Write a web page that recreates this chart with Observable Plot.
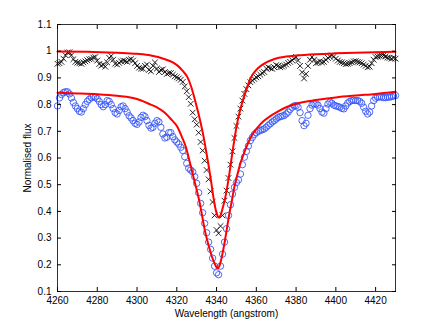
<!DOCTYPE html>
<html>
<head>
<meta charset="utf-8">
<script src="https://cdn.jsdelivr.net/npm/d3@7"></script>
<script src="https://cdn.jsdelivr.net/npm/@observablehq/plot@0.6"></script>
<style>
  html, body { margin: 0; padding: 0; background: #fff; }
  #chart { width: 436px; height: 328px; }
</style>
</head>
<body>
<div id="chart"></div>
<script>
// Wavelength grid of the observed spectra (angstrom), 1 Å steps
const wavelengths = d3.range(4260, 4431, 1);

// Observed spectrum 1 (black crosses)
const fluxBlack = [
  0.953,0.955,0.960,0.972,0.985,0.995,0.996,0.985,0.970,0.960,
  0.957,0.955,0.953,0.958,0.962,0.966,0.970,0.971,0.976,0.978,
  0.965,0.952,0.946,0.950,0.942,0.958,0.975,0.982,0.968,0.953,
  0.950,0.956,0.962,0.965,0.963,0.960,0.968,0.970,0.965,0.955,
  0.945,0.938,0.935,0.934,0.945,0.950,0.930,0.925,0.945,0.958,
  0.935,0.922,0.930,0.932,0.922,0.915,0.918,0.918,0.912,0.906,
  0.902,0.898,0.893,0.885,0.868,0.850,0.828,0.803,0.770,0.745,
  0.725,0.695,0.660,0.628,0.590,0.555,0.520,0.475,0.435,0.385,
  0.330,0.318,0.345,0.385,0.440,0.478,0.525,0.575,0.625,0.675,
  0.720,0.755,0.785,0.815,0.840,0.858,0.872,0.884,0.890,0.896,
  0.902,0.906,0.912,0.918,0.922,0.935,0.940,0.936,0.934,0.940,
  0.948,0.945,0.940,0.942,0.946,0.950,0.956,0.960,0.966,0.972,
  0.978,0.965,0.945,0.921,0.898,0.915,0.945,0.968,0.978,0.968,
  0.955,0.958,0.962,0.958,0.960,0.968,0.975,0.980,0.984,0.980,
  0.972,0.965,0.960,0.958,0.955,0.952,0.953,0.955,0.958,0.962,
  0.963,0.960,0.958,0.955,0.950,0.945,0.940,0.942,0.955,0.968,
  0.978,0.980,0.982,0.984,0.984,0.980,0.976,0.975,0.972,0.975,
  0.972
];

// Observed spectrum 2 (blue circles)
const fluxBlue = [
  0.795,0.825,0.838,0.845,0.848,0.848,0.840,0.825,0.808,0.795,
  0.785,0.775,0.772,0.785,0.800,0.812,0.820,0.826,0.830,0.828,
  0.822,0.812,0.800,0.792,0.800,0.815,0.812,0.800,0.785,0.770,
  0.765,0.778,0.792,0.795,0.785,0.772,0.758,0.750,0.740,0.730,
  0.726,0.735,0.752,0.760,0.755,0.740,0.722,0.712,0.715,0.730,
  0.740,0.735,0.715,0.690,0.675,0.678,0.695,0.695,0.680,0.668,
  0.660,0.652,0.640,0.628,0.605,0.580,0.562,0.555,0.548,0.530,
  0.505,0.470,0.430,0.395,0.355,0.320,0.285,0.258,0.225,0.195,
  0.170,0.163,0.195,0.240,0.285,0.335,0.385,0.425,0.465,0.490,
  0.508,0.518,0.540,0.575,0.603,0.625,0.645,0.665,0.677,0.688,
  0.695,0.700,0.703,0.706,0.709,0.715,0.722,0.728,0.735,0.740,
  0.746,0.752,0.755,0.757,0.759,0.765,0.772,0.782,0.790,0.795,
  0.796,0.790,0.770,0.740,0.721,0.730,0.760,0.785,0.798,0.803,
  0.803,0.798,0.785,0.772,0.768,0.785,0.802,0.809,0.805,0.798,
  0.795,0.793,0.790,0.786,0.784,0.795,0.806,0.812,0.815,0.816,
  0.815,0.815,0.812,0.805,0.790,0.775,0.765,0.772,0.795,0.815,
  0.824,0.828,0.829,0.828,0.826,0.826,0.828,0.828,0.830,0.832,
  0.834
];

// Fitted profile 1 (upper red line)
const fitUpperWave = [4260,4275,4290,4300,4307,4313.7,4318,4320.4,4323,4325.4,4327.2,4328.8,4330.5,4332.1,4333.5,4334.7,4336,4337.2,4338.5,4339.6,4340.5,4341.2,4342,4343,4344.2,4345.9,4347,4348.1,4349.2,4350.3,4352,4353.7,4355.5,4357.3,4360,4362.4,4365.5,4369.1,4375,4380,4390,4400,4415,4430];
const fitUpperFlux = [0.999,0.998,0.994,0.990,0.984,0.971,0.958,0.946,0.926,0.902,0.868,0.827,0.778,0.728,0.678,0.628,0.572,0.515,0.450,0.405,0.383,0.377,0.385,0.410,0.445,0.515,0.570,0.628,0.680,0.728,0.783,0.827,0.868,0.902,0.930,0.946,0.960,0.971,0.980,0.984,0.989,0.992,0.995,0.998];

// Fitted profile 2 (lower red line)
const fitLowerWave = [4260,4270,4280,4290,4300,4306.9,4310,4313.7,4317,4320.4,4322.5,4324.6,4326.3,4328,4329.7,4331.3,4332.6,4333.8,4335,4336.3,4337.6,4338.8,4339.8,4340.6,4341.4,4342.2,4343.2,4344.2,4345.3,4346.4,4347.7,4348.9,4350.4,4351.9,4353.8,4355.7,4358,4360.7,4364,4367.4,4371,4375,4380,4390,4400,4410,4420,4430];
const fitLowerFlux = [0.844,0.842,0.839,0.833,0.821,0.800,0.790,0.771,0.746,0.715,0.680,0.640,0.592,0.540,0.490,0.440,0.390,0.340,0.300,0.265,0.232,0.209,0.193,0.187,0.195,0.215,0.250,0.290,0.340,0.390,0.440,0.490,0.535,0.578,0.618,0.653,0.688,0.715,0.740,0.759,0.775,0.790,0.803,0.817,0.827,0.834,0.840,0.848];

// Tick values
const xTicks = [4260,4280,4300,4320,4340,4360,4380,4400,4420];
const yTicks = [0.1,0.2,0.3,0.4,0.5,0.6,0.7,0.8,0.9,1.0,1.1];
const xLabel = "Wavelength (angstrom)";
const yLabel = "Normalised flux";

const black = wavelengths.map((w, i) => ({w, f: fluxBlack[i]}));
const blue = wavelengths.map((w, i) => ({w, f: fluxBlue[i]}));
const fitU = fitUpperWave.map((w, i) => ({w, f: fitUpperFlux[i]}));
const fitL = fitLowerWave.map((w, i) => ({w, f: fitLowerFlux[i]}));

const fmt = d => String(+d.toFixed(1));

const chart = Plot.plot({
  width: 436,
  height: 328,
  marginLeft: 57,
  marginRight: 41,
  marginTop: 24,
  marginBottom: 37,
  style: {fontFamily: "'Liberation Sans', Arial, Helvetica, sans-serif", fontSize: "10px", color: "#000", background: "#fff"},
  x: {domain: [4260, 4430]},
  y: {domain: [0.1, 1.1]},
  marks: [
    Plot.dot(black, {x: "w", y: "f", symbol: "times", r: 2.7, stroke: "#000", strokeWidth: 0.85}),
    Plot.dot(blue, {x: "w", y: "f", symbol: "circle", r: 3.2, stroke: "#3050f5", strokeWidth: 0.85, fill: "none"}),
    Plot.line(fitU, {x: "w", y: "f", stroke: "#ff0000", strokeWidth: 2, curve: "monotone-x"}),
    Plot.line(fitL, {x: "w", y: "f", stroke: "#ff0000", strokeWidth: 2, curve: "monotone-x"}),
    // labels
    Plot.axisX(xTicks, {anchor: "bottom", tickSize: 0, tickPadding: 5, tickFormat: fmt, label: xLabel, labelAnchor: "center", labelArrow: "none", labelOffset: 25}),
    Plot.axisY(yTicks, {anchor: "left", tickSize: 0, tickPadding: 6, tickFormat: fmt, label: yLabel, labelAnchor: "center", labelArrow: "none", labelOffset: 34}),
    // inward ticks on all sides
    Plot.axisX(xTicks, {anchor: "bottom", tickSize: -4, tickFormat: () => "", label: null}),
    Plot.axisX(xTicks, {anchor: "top", tickSize: -4, tickFormat: () => "", label: null}),
    Plot.axisY(yTicks, {anchor: "left", tickSize: -4, tickFormat: () => "", label: null}),
    Plot.axisY(yTicks, {anchor: "right", tickSize: -4, tickFormat: () => "", label: null}),
    Plot.frame({stroke: "#000", strokeWidth: 0.8})
  ]
});
document.getElementById("chart").appendChild(chart);
</script>
</body>
</html>
